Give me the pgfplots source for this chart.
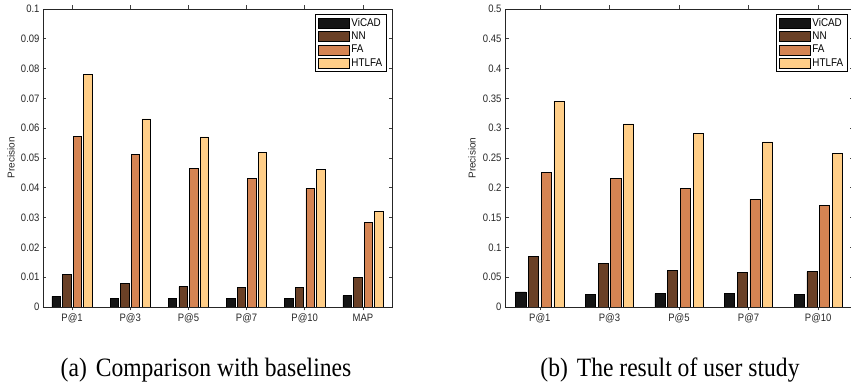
\documentclass[border=0pt]{standalone}
\usepackage{pgfplots}
\usepackage{pgfplotstable}
\pgfplotsset{compat=1.18}
\usepackage{fontspec}
\newfontfamily\axfont[FakeStretch=0.88]{Liberation Sans}
\newfontfamily\labfont{Liberation Sans}
\newfontfamily\capfont[FakeStretch=0.89]{Liberation Serif}

\definecolor{cVI}{HTML}{151515}
\definecolor{cNN}{HTML}{6A4026}
\definecolor{cFA}{HTML}{D58453}
\definecolor{cHT}{HTML}{FFCE88}

\pgfplotstableread{
x VICAD NN FA HTLFA
0 0.0036 0.0109 0.0572 0.0780
1 0.0028 0.0078 0.0512 0.0631
2 0.0028 0.0068 0.0464 0.0571
3 0.0028 0.0065 0.0432 0.0518
4 0.0029 0.0067 0.0397 0.0462
5 0.0038 0.0098 0.0284 0.0322
}\tabA
\pgfplotstableread{
x VICAD NN FA HTLFA
0 0.0252 0.0846 0.2253 0.3453
1 0.0213 0.0729 0.2152 0.3072
2 0.0224 0.0611 0.1990 0.2915
3 0.0224 0.0583 0.1805 0.2769
4 0.0213 0.0594 0.1710 0.2573
}\tabB

\pgfplotsset{
  matlab/.style={
    scale only axis,
    height=298pt,
    axis line style={black!85, line width=0.9pt},
    every tick/.style={black!75, line width=0.6pt},
    major tick length=3.5pt,
    tick align=inside,
    tick pos=both,
    xtick=data,
    ymin=0,
    /pgf/number format/assume math mode=true,
    yticklabel style={font=\axfont\fontsize{10.8}{12}\selectfont, text=black!85,
      /pgf/number format/fixed, /pgf/number format/precision=2},
    xticklabel style={font=\axfont\fontsize{10.8}{12}\selectfont, text=black!85},
    scaled y ticks=false,
    ylabel={Precision},
    ylabel style={font=\labfont\fontsize{10}{12}\selectfont, text=black!85},
    legend cell align=left,
    legend style={at={(1,1)}, anchor=north east, xshift=-5pt, yshift=-5pt,
      draw=black, line width=0.8pt, font=\axfont\fontsize{11.2}{13}\selectfont,
      inner xsep=3pt, inner ysep=2pt, row sep=0pt,
      nodes={inner xsep=1.5pt}},
  },
  bx/.style={fill=#1, draw=black, line width=0.6pt,
    legend image code/.code={\draw[fill=#1, draw=black, line width=0.6pt] (0pt,-5pt) rectangle (31pt,5pt);}},
}

\begin{document}
\begin{tikzpicture}
\begin{axis}[matlab,
  at={(43pt,75pt)}, anchor=south west,
  width=349pt,
  xmin=-0.5, xmax=5.5,
  ymax=0.1, ytick={0,0.01,...,0.1},
  xticklabels={P@1,P@3,P@5,P@7,P@10,MAP},
  ylabel style={at={(axis description cs:-0.0917,0.5)}, anchor=center},
  ybar=2.2pt, bar width=8.4pt,
]
\addplot[bx=cVI] table[x=x,y=VICAD]{\tabA};
\addplot[bx=cNN] table[x=x,y=NN]{\tabA};
\addplot[bx=cFA] table[x=x,y=FA]{\tabA};
\addplot[bx=cHT] table[x=x,y=HTLFA]{\tabA};
\legend{ViCAD,NN,FA,HTLFA}
\end{axis}
\begin{axis}[matlab,
  at={(505pt,75pt)}, anchor=south west,
  width=348pt,
  xmin=-0.5, xmax=4.5,
  ymax=0.5, ytick={0,0.05,...,0.5},
  xticklabels={P@1,P@3,P@5,P@7,P@10},
  ylabel style={at={(axis description cs:-0.0948,0.5)}, anchor=center},
  ybar=2.6pt, bar width=10.1pt,
]
\addplot[bx=cVI] table[x=x,y=VICAD]{\tabB};
\addplot[bx=cNN] table[x=x,y=NN]{\tabB};
\addplot[bx=cFA] table[x=x,y=FA]{\tabB};
\addplot[bx=cHT] table[x=x,y=HTLFA]{\tabB};
\legend{ViCAD,NN,FA,HTLFA}
\end{axis}
\node[anchor=base, font=\capfont\fontsize{26.5}{30}\selectfont, inner sep=0pt] at (206pt,5pt) {(a)\hspace{3pt} Comparison with baselines};
\node[anchor=base, font=\capfont\fontsize{26.5}{30}\selectfont, inner sep=0pt] at (670pt,5pt) {(b)\hspace{3pt} The result of user study};
\pgfresetboundingbox
\useasboundingbox (0pt,0pt) rectangle (851pt,382pt);
\end{tikzpicture}
\end{document}
